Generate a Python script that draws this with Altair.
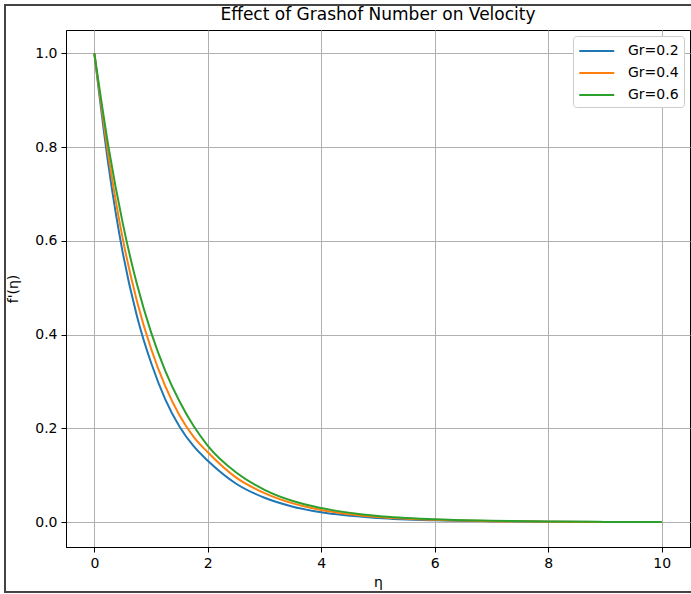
import altair as alt
import pandas as pd

eta = [0, 0.25, 0.5, 0.75, 1, 1.25, 1.5, 1.75, 2, 2.5, 3, 3.5, 4, 5, 6, 7, 8, 9, 10]
gr_02 = [1.0, 0.76, 0.575, 0.44, 0.34, 0.262, 0.204, 0.162, 0.131, 0.082, 0.052, 0.033, 0.021, 0.009, 0.004, 0.002, 0.001, 0.0005, 0.0002]
gr_04 = [1.0, 0.78, 0.605, 0.472, 0.37, 0.29, 0.228, 0.182, 0.149, 0.095, 0.062, 0.040, 0.026, 0.011, 0.005, 0.002, 0.001, 0.0005, 0.0002]
gr_06 = [1.0, 0.80, 0.638, 0.508, 0.405, 0.323, 0.258, 0.205, 0.163, 0.106, 0.069, 0.045, 0.030, 0.013, 0.006, 0.003, 0.0013, 0.0006, 0.0003]
series_names = ["Gr=0.2", "Gr=0.4", "Gr=0.6"]
colors = ["#1f77b4", "#ff7f0e", "#2ca02c"]
x_ticks = [0, 2, 4, 6, 8, 10]
y_ticks = [0.0, 0.2, 0.4, 0.6, 0.8, 1.0]

rows = []
for name, vals in zip(series_names, [gr_02, gr_04, gr_06]):
    for i, (e, v) in enumerate(zip(eta, vals)):
        rows.append({"eta": e, "f": v, "series": name, "order": i})
df = pd.DataFrame(rows)

font = "DejaVu Sans"

lines = alt.Chart(df).mark_line(strokeWidth=2, interpolate="monotone", clip=True).encode(
    x=alt.X("eta:Q", scale=alt.Scale(domain=[-0.5, 10.5], nice=False, zero=False),
            axis=alt.Axis(title="η", values=x_ticks, format="d", titlePadding=5)),
    y=alt.Y("f:Q", scale=alt.Scale(domain=[-0.053, 1.05], nice=False, zero=False),
            axis=alt.Axis(title="f'(η)", values=y_ticks, format=".1f", titlePadding=14)),
    color=alt.Color("series:N", scale=alt.Scale(domain=series_names, range=colors),
                    legend=alt.Legend(title=None, orient="top-right", offset=6,
                                      symbolType="M-1,0H3", symbolSize=306,
                                      symbolStrokeWidth=2, labelFontSize=14,
                                      labelFont=font, padding=5, rowPadding=5,
                                      labelOffset=30,
                                      strokeColor="#cccccc", fillColor="white",
                                      cornerRadius=3, labelColor="black")),
    order="order:Q",
)

frame = alt.Chart(df).mark_rect(fill=None, stroke="#444444", strokeWidth=1.5).encode(
    x=alt.value(-61), x2=alt.value(700), y=alt.value(-25), y2=alt.value(562)
)

chart = alt.layer(frame, lines).properties(
    width=624, height=517,
    title=alt.TitleParams("Effect of Grashof Number on Velocity", fontSize=17, font=font,
                          fontWeight="normal", color="black", offset=-20),
    autosize=alt.AutoSizeParams(type="none"),
    padding={"left": 66, "top": 30, "right": 1, "bottom": 47},
).configure_view(stroke="black", strokeWidth=1).configure_axis(
    labelFont=font, labelFontSize=14, labelColor="black", titleFont=font,
    titleFontSize=14, titleFontWeight="normal", titleColor="black",
    domainColor="black", tickColor="black", tickSize=5, labelPadding=4,
    gridColor="#b0b0b0", gridWidth=1,
)

chart.save("out.html", embed_options={"renderer": "svg", "actions": False})
